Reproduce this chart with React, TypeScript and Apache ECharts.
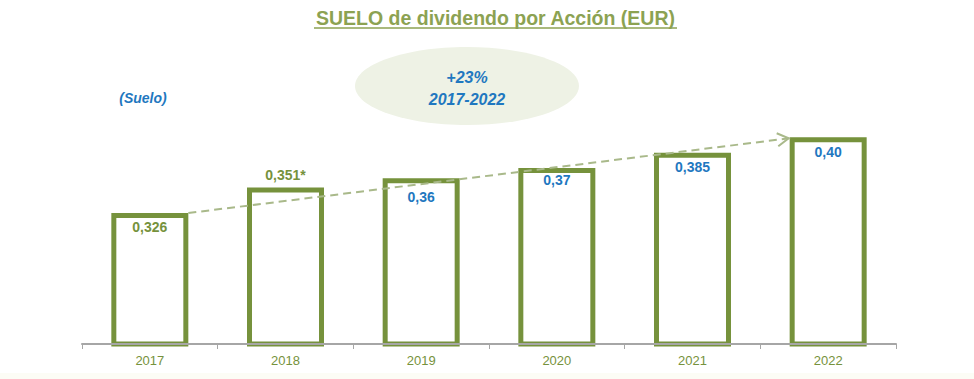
import React, { useEffect, useRef } from "react";
import * as echarts from "echarts";

const titleText = "SUELO de dividendo por Acción (EUR)";
const unitText = "(Suelo)";
const growthLines = ["+23%", "2017-2022"];
const categories = ["2017", "2018", "2019", "2020", "2021", "2022"];
const floorValues = [0.326, 0.351, 0.36, 0.37, 0.385, 0.4];
const valueLabels = ["0,326", "0,351*", "0,36", "0,37", "0,385", "0,40"];

const GREEN = "#76923C";
const BLUE = "#1F78C0";
const TITLE_GREEN = "#8CA252";
const DASH = "#A9B98A";
const BAR_W = 77;
const BORDER = 5;

// label placement per bar (style only)
const labelPlacement = [
  { position: "insideTop", distance: 7, color: GREEN },
  { position: "top", distance: 5, color: GREEN },
  { position: "insideTop", distance: 12, color: BLUE },
  { position: "insideTop", distance: 5, color: BLUE },
  { position: "insideTop", distance: 7, color: BLUE },
  { position: "insideTop", distance: 8, color: BLUE },
];

export default function App() {
  const ref = useRef<HTMLDivElement>(null);
  useEffect(() => {
    if (!ref.current) return;
    const chart = echarts.init(ref.current, null, { renderer: "svg" });
    const font = "Liberation Sans, Arial, sans-serif";
    chart.setOption({
      animation: false,
      backgroundColor: "#ffffff",
      grid: { left: 82, right: 78, top: 91.3, bottom: 35, containLabel: false },
      xAxis: {
        type: "category",
        data: categories,
        z: 5,
        axisLine: { lineStyle: { color: "#A6A6A6", width: 2 } },
        axisTick: { show: true, length: 5, lineStyle: { color: "#A6A6A6", width: 1 } },
        axisLabel: { color: GREEN, fontSize: 13, fontFamily: font, margin: 10 },
      },
      yAxis: {
        type: "value",
        min: 0.198,
        max: 0.445,
        show: false,
        splitLine: { show: false },
      },
      series: [
        {
          type: "bar",
          barWidth: BAR_W,
          z: 2,
          itemStyle: { color: "#ffffff", borderColor: GREEN, borderWidth: BORDER },
          data: floorValues.map((v, i) => ({
            value: v,
            label: {
              show: true,
              position: labelPlacement[i].position,
              distance: labelPlacement[i].distance,
              color: labelPlacement[i].color,
              fontSize: 14,
              fontWeight: "bold",
              fontFamily: font,
              formatter: () => valueLabels[i],
            },
          })),
        },
      ],
    });

    const p0 = chart.convertToPixel({ seriesIndex: 0 }, [0, floorValues[0]]) as number[];
    const pN = chart.convertToPixel(
      { seriesIndex: 0 },
      [floorValues.length - 1, floorValues[floorValues.length - 1]]
    ) as number[];
    const sx = p0[0] + BAR_W / 2;
    const sy = p0[1];
    const ex = pN[0] - BAR_W / 2 - 1;
    const ey = pN[1] + 1;
    const len = Math.hypot(ex - sx, ey - sy);
    const dx = (ex - sx) / len;
    const dy = (ey - sy) / len;
    const ah = 13;
    const ang = (30 * Math.PI) / 180;
    const rot = (a: number) => [
      ex - ah * (dx * Math.cos(a) - dy * Math.sin(a)),
      ey - ah * (dx * Math.sin(a) + dy * Math.cos(a)),
    ];

    chart.setOption({
      graphic: [
        {
          type: "text",
          x: 495.5,
          y: 18,
          style: {
            text: titleText,
            fill: TITLE_GREEN,
            font: `bold 19.5px ${font}`,
            textAlign: "center",
            textVerticalAlign: "middle",
          },
        },
        {
          type: "line",
          shape: { x1: 314, y1: 28, x2: 677, y2: 28 },
          style: { stroke: TITLE_GREEN, lineWidth: 1.5 },
        },
        {
          type: "text",
          x: 143,
          y: 98,
          style: {
            text: unitText,
            fill: BLUE,
            font: `italic bold 14px ${font}`,
            textAlign: "center",
            textVerticalAlign: "middle",
          },
        },
        {
          type: "ellipse",
          shape: { cx: 467, cy: 86, rx: 112, ry: 39 },
          style: { fill: "#EEF2E5" },
        },
        {
          type: "text",
          x: 467,
          y: 77,
          style: {
            text: growthLines[0],
            fill: BLUE,
            font: `italic bold 16px ${font}`,
            textAlign: "center",
            textVerticalAlign: "middle",
          },
        },
        {
          type: "text",
          x: 467,
          y: 99,
          style: {
            text: growthLines[1],
            fill: BLUE,
            font: `italic bold 16px ${font}`,
            textAlign: "center",
            textVerticalAlign: "middle",
          },
        },
        {
          type: "line",
          z: 10,
          shape: { x1: sx, y1: sy, x2: ex, y2: ey },
          style: { stroke: DASH, lineWidth: 2, lineDash: [8, 5] },
        },
        {
          type: "polyline",
          z: 10,
          shape: { points: [rot(ang), [ex, ey], rot(-ang)] },
          style: { stroke: DASH, lineWidth: 2, fill: null },
        },
        {
          type: "rect",
          shape: { x: 0, y: 373, width: 974, height: 6 },
          style: { fill: "#FCFCF5" },
        },
      ],
    });

    return () => chart.dispose();
  }, []);
  return (
    <div
      ref={ref}
      style={{ position: "fixed", left: 0, top: 0, width: 974, height: 379 }}
    />
  );
}
